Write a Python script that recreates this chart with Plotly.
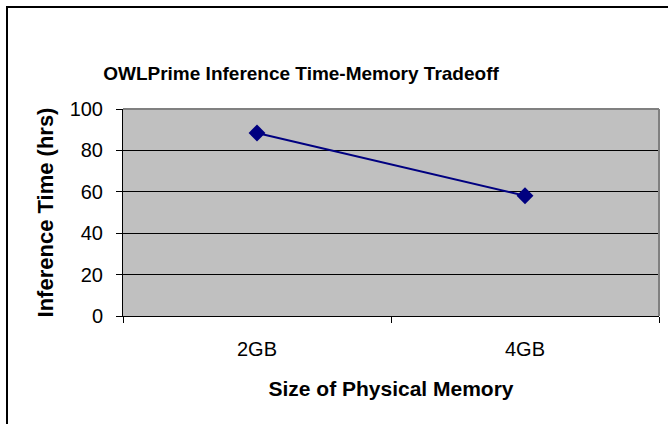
import plotly.graph_objects as go

categories = ["2GB", "4GB"]
inference_hours = [88.4, 58.1]
y_ticks = [0, 20, 40, 60, 80, 100]

W, H = 668, 424
L, R, T, B = 123, 9, 109, 108
pw, ph = W - L - R, H - T - B

def px_x(x):
    return (x - L) / pw

def px_y(y):
    return (H - B - y) / ph

fig = go.Figure()
fig.add_trace(go.Scatter(
    x=categories, y=inference_hours, mode="lines+markers",
    line=dict(color="#000080", width=2),
    marker=dict(symbol="diamond", size=13, color="#000080"),
    showlegend=False,
))

font = "Arial, Liberation Sans, sans-serif"
fig.update_layout(
    width=W, height=H,
    margin=dict(l=L, r=R, t=T, b=B),
    paper_bgcolor="white", plot_bgcolor="#C0C0C0",
    title=dict(text="<b>OWLPrime Inference Time-Memory Tradeoff</b>",
               x=301 / W, xanchor="center", y=1 - 73 / H, yanchor="middle",
               font=dict(family=font, size=19, color="black")),
    xaxis=dict(
        type="category", tickson="boundaries", ticks="outside", ticklen=6,
        tickcolor="black", showline=True, linecolor="black", linewidth=1,
        showgrid=False, tickfont=dict(family=font, size=20, color="black"),
        ticklabelstandoff=15,
        title=dict(text="<b>Size of Physical Memory</b>", standoff=22,
                   font=dict(family=font, size=21, color="black")),
        range=[-0.5, 1.5], mirror=False,
    ),
    yaxis=dict(
        range=[0, 100], tickvals=y_ticks, ticks="outside", ticklen=6,
        tickcolor="black", showline=True, linecolor="black", linewidth=1,
        showgrid=True, gridcolor="black", gridwidth=1, zeroline=False,
        tickfont=dict(family=font, size=20, color="black"),
        ticklabelstandoff=9,
        title=dict(text="<b>Inference Time (hrs)</b>", standoff=9,
                   font=dict(family=font, size=22, color="black")),
    ),
)

# plot area border (top/right gray)
fig.add_shape(type="line", xref="paper", yref="paper", x0=0, x1=1, y0=1, y1=1,
              line=dict(color="#808080", width=2))
fig.add_shape(type="line", xref="paper", yref="paper", x0=1, x1=1, y0=0, y1=1,
              line=dict(color="#808080", width=2))
# outer chart frame
fig.add_shape(type="rect", xref="paper", yref="paper",
              x0=px_x(7), x1=px_x(700), y0=px_y(460), y1=px_y(7),
              line=dict(color="black", width=2), layer="below")

fig.write_html("out.html", config={"displayModeBar": False},
               post_script="document.body.style.margin='0';document.body.style.padding='0';")
